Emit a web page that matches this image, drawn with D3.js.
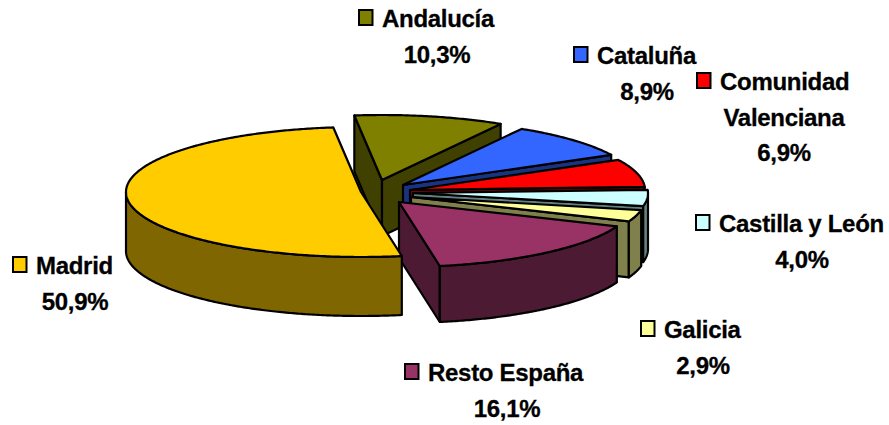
<!DOCTYPE html>
<html><head><meta charset="utf-8">
<script src="https://cdn.jsdelivr.net/npm/d3@7"></script>
<style>html,body{margin:0;padding:0;background:#fff}svg{display:block}
text{font-family:"Liberation Sans",Arial,sans-serif;font-weight:bold;font-size:24px;fill:#000;letter-spacing:-0.3px;stroke:#000;stroke-width:0.3px}</style>
</head><body><svg id="c" width="889" height="425"></svg>
<script>
const categories=["Madrid","Andalucía","Cataluña","Comunidad Valenciana","Castilla y León","Galicia","Resto España"];
const shares=[50.9,10.3,8.9,6.9,4.0,2.9,16.1];
const pctLabels=["50,9%","10,3%","8,9%","6,9%","4,0%","2,9%","16,1%"];
const topColors=["#FFCC00","#808000","#3366FF","#FF0000","#CCFFFF","#FFFF99","#993366"];
const wallColors=["#806600","#404000","#1A3380","#800000","#668080","#80804D","#4D1A33"];
// layout
const apexes=[[361,192],[382,180],[403,185],[410,190],[413,193],[411,197],[399,202]];
const depths=[59,56,56,56,56,56,56];
const legendPos=[[12,256],[358,9],[573,46],[696,72],[695,214],[640,320],[404,363]];
const nameLines=[["Madrid"],["Andalucía"],["Cataluña"],["Comunidad","Valenciana"],["Castilla y León"],["Galicia"],["Resto España"]];
const textCentre=[75,437,647,784,802,703,507];
const RX=235,RY=65,LH=35.5;
const svg=d3.select("#c");
const pie=d3.pie().sort(null).value(d=>d).startAngle(170*Math.PI/180).endAngle(170*Math.PI/180+2*Math.PI);
const arcs=pie(shares);
const line=d3.line();
const onRim=(ap,t,dy=0)=>[ap[0]+RX*Math.sin(t),ap[1]-RY*Math.cos(t)+dy];
function rim(ap,a,b,dy){const n=Math.max(2,Math.ceil((b-a)/0.01));return d3.range(n+1).map(i=>onRim(ap,a+(b-a)*i/n,dy));}
const order=d3.range(1,shares.length).concat(0);
const g=svg.append("g");
order.forEach(i=>{
  const d=arcs[i],ap=apexes[i],s=d.startAngle,e=d.endAngle,D=depths[i];
  const gs=g.append("g").attr("stroke","#000").attr("stroke-width",2.2).attr("stroke-linejoin","round");
  const wall=pts=>gs.append("path").attr("d",line(pts)+"Z").attr("fill",wallColors[i]);
  const low=[ap[0],ap[1]+D];
  if(Math.sin(s)<0) wall([ap,onRim(ap,s),onRim(ap,s,D),low]);
  if(Math.sin(e)>0) wall([ap,onRim(ap,e),onRim(ap,e,D),low]);
  const P=Math.PI;
  [[P/2,3*P/2],[2*P+P/2,2*P+3*P/2]].forEach(([u,v])=>{
    const a=Math.max(s,u),b=Math.min(e,v);
    if(b>a) wall(rim(ap,a,b,0).concat(rim(ap,a,b,D).reverse()));
  });
  gs.append("path").attr("d",line([ap].concat(rim(ap,s,e,0)))+"Z").attr("fill",topColors[i]);
});
const lg=svg.append("g");
categories.forEach((c,i)=>{
  const [x,y]=legendPos[i];
  lg.append("rect").attr("x",x+1).attr("y",y+1).attr("width",13.5).attr("height",15).attr("fill",topColors[i]).attr("stroke","#000").attr("stroke-width",2);
  lg.append("text").attr("x",x+24).attr("y",y+18).text(nameLines[i][0]);
  let by=y+18+LH;
  if(nameLines[i][1]){lg.append("text").attr("x",textCentre[i]).attr("y",by).attr("text-anchor","middle").text(nameLines[i][1]);by+=LH;}
  lg.append("text").attr("x",textCentre[i]).attr("y",by).attr("text-anchor","middle").text(pctLabels[i]);
});
</script></body></html>
